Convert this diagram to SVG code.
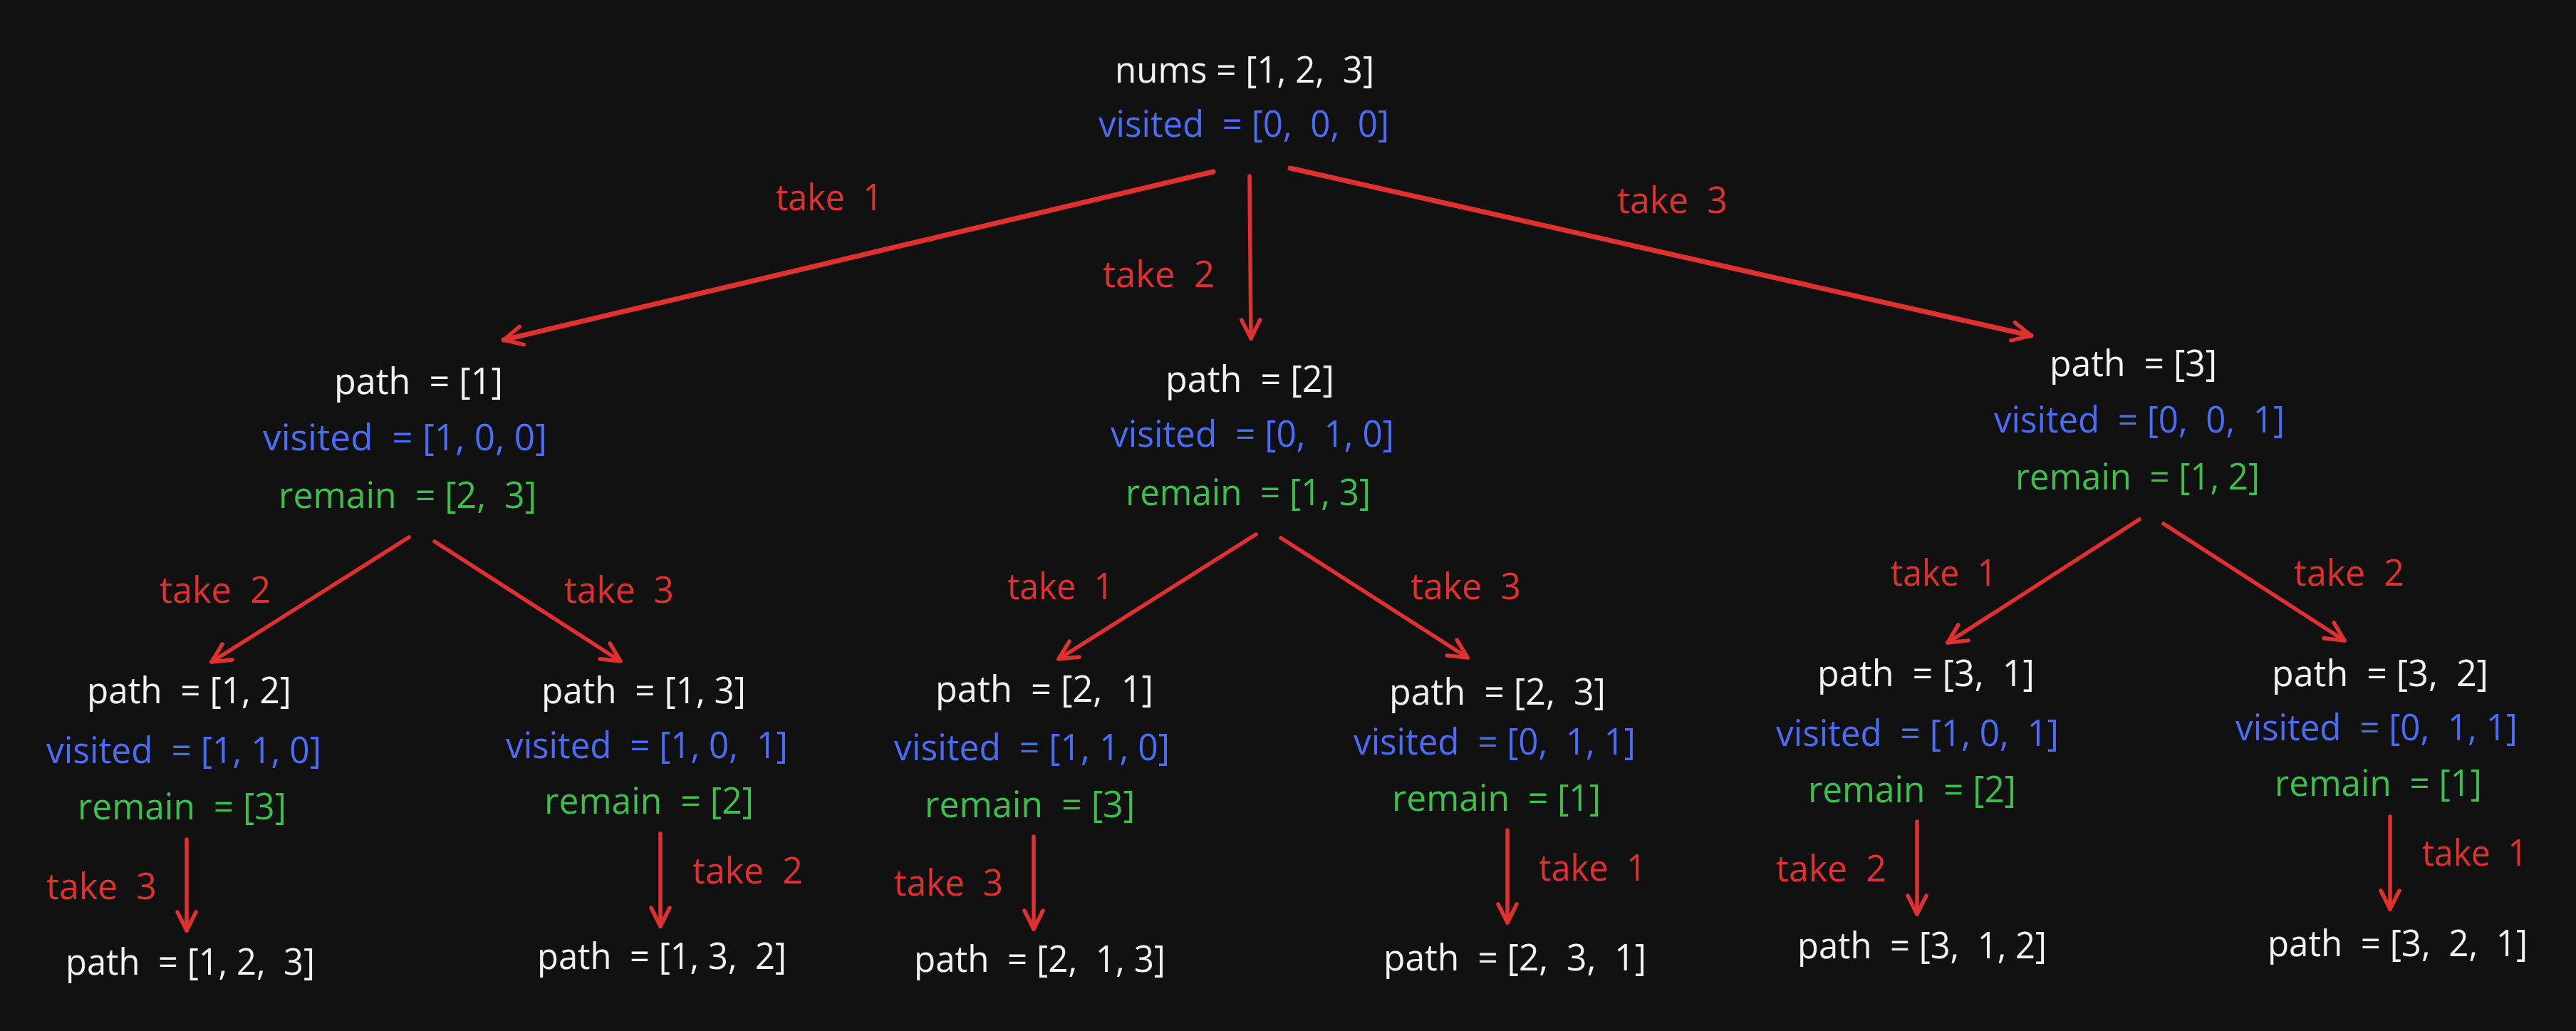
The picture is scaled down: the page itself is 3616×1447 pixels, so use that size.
<svg xmlns="http://www.w3.org/2000/svg" width="3616" height="1447" viewBox="0 0 3616 1447">
<style>
text{font-family:"Open Sans","Noto Sans","Liberation Sans",sans-serif;font-size:52px;white-space:pre}
.w{fill:#f2f2f2}.b{fill:#4b6cf7}.g{fill:#3dbf4b}.r{fill:#e03030}
.e{stroke:#e03030;stroke-width:5.5;stroke-linecap:round;fill:none;marker-end:url(#ah)}
.e6{stroke-width:7}
</style>
<defs>
<marker id="ah" markerUnits="userSpaceOnUse" markerWidth="60" markerHeight="60" viewBox="-40 -30 50 60" refX="0" refY="0" orient="auto">
<path d="M -26 -13 L 0 0 L -26 13" fill="none" stroke="#e03030" stroke-width="5.5" stroke-linecap="round" stroke-linejoin="round"/>
</marker>
</defs>
<rect width="3616" height="1447" fill="#111111"/>
<g id="connectors">
<line class="e e6" x1="1703" y1="241" x2="707" y2="477"/>
<line class="e" x1="1754" y1="247" x2="1756" y2="475"/>
<line class="e e6" x1="1811" y1="236" x2="2851" y2="471"/>
<line class="e" x1="574" y1="754" x2="297" y2="929"/>
<line class="e" x1="610" y1="760" x2="871" y2="928"/>
<line class="e" x1="1763" y1="750" x2="1486" y2="925"/>
<line class="e" x1="1798" y1="755" x2="2060" y2="923"/>
<line class="e" x1="3003" y1="729" x2="2734" y2="902"/>
<line class="e" x1="3037" y1="735" x2="3291" y2="899"/>
<line class="e" x1="262" y1="1178" x2="262" y2="1306"/>
<line class="e" x1="927" y1="1170" x2="927" y2="1300"/>
<line class="e" x1="1451" y1="1174" x2="1451" y2="1304"/>
<line class="e" x1="2116" y1="1165" x2="2116" y2="1295"/>
<line class="e" x1="2691" y1="1153" x2="2691" y2="1283"/>
<line class="e" x1="3355" y1="1146" x2="3355" y2="1276"/>
<text class="r" x="1089" y="295" textLength="150" lengthAdjust="spacingAndGlyphs">take  1</text>
<text class="r" x="1548" y="403" textLength="157" lengthAdjust="spacingAndGlyphs">take  2</text>
<text class="r" x="2270" y="299" textLength="155" lengthAdjust="spacingAndGlyphs">take  3</text>
<text class="r" x="224" y="846" textLength="156" lengthAdjust="spacingAndGlyphs">take  2</text>
<text class="r" x="792" y="846" textLength="154" lengthAdjust="spacingAndGlyphs">take  3</text>
<text class="r" x="1414" y="841" textLength="149" lengthAdjust="spacingAndGlyphs">take  1</text>
<text class="r" x="1980" y="841" textLength="155" lengthAdjust="spacingAndGlyphs">take  3</text>
<text class="r" x="2654" y="822" textLength="149" lengthAdjust="spacingAndGlyphs">take  1</text>
<text class="r" x="3220" y="822" textLength="155" lengthAdjust="spacingAndGlyphs">take  2</text>
<text class="r" x="65" y="1262" textLength="155" lengthAdjust="spacingAndGlyphs">take  3</text>
<text class="r" x="972" y="1240" textLength="155" lengthAdjust="spacingAndGlyphs">take  2</text>
<text class="r" x="1255" y="1257" textLength="153" lengthAdjust="spacingAndGlyphs">take  3</text>
<text class="r" x="2160" y="1236" textLength="151" lengthAdjust="spacingAndGlyphs">take  1</text>
<text class="r" x="2493" y="1237" textLength="155" lengthAdjust="spacingAndGlyphs">take  2</text>
<text class="r" x="3400" y="1215" textLength="148" lengthAdjust="spacingAndGlyphs">take  1</text>
</g>
<g id="root">
<text class="w" x="1565" y="116" textLength="364" lengthAdjust="spacingAndGlyphs">nums = [1, 2,  3]</text>
<text class="b" x="1542" y="192" textLength="408" lengthAdjust="spacingAndGlyphs">visited  = [0,  0,  0]</text>
</g>
<g id="n1">
<text class="w" x="469" y="553" textLength="237" lengthAdjust="spacingAndGlyphs">path  = [1]</text>
<text class="b" x="369" y="632" textLength="399" lengthAdjust="spacingAndGlyphs">visited  = [1, 0, 0]</text>
<text class="g" x="391" y="713" textLength="362" lengthAdjust="spacingAndGlyphs">remain  = [2,  3]</text>
</g>
<g id="n2">
<text class="w" x="1636" y="550" textLength="237" lengthAdjust="spacingAndGlyphs">path  = [2]</text>
<text class="b" x="1559" y="627" textLength="398" lengthAdjust="spacingAndGlyphs">visited  = [0,  1, 0]</text>
<text class="g" x="1580" y="709" textLength="344" lengthAdjust="spacingAndGlyphs">remain  = [1, 3]</text>
</g>
<g id="n3">
<text class="w" x="2877" y="528" textLength="235" lengthAdjust="spacingAndGlyphs">path  = [3]</text>
<text class="b" x="2799" y="607" textLength="408" lengthAdjust="spacingAndGlyphs">visited  = [0,  0,  1]</text>
<text class="g" x="2829" y="687" textLength="343" lengthAdjust="spacingAndGlyphs">remain  = [1, 2]</text>
</g>
<g id="n12">
<text class="w" x="122" y="987" textLength="287" lengthAdjust="spacingAndGlyphs">path  = [1, 2]</text>
<text class="b" x="65" y="1071" textLength="386" lengthAdjust="spacingAndGlyphs">visited  = [1, 1, 0]</text>
<text class="g" x="109" y="1150" textLength="293" lengthAdjust="spacingAndGlyphs">remain  = [3]</text>
</g>
<g id="n13">
<text class="w" x="760" y="987" textLength="287" lengthAdjust="spacingAndGlyphs">path  = [1, 3]</text>
<text class="b" x="710" y="1064" textLength="396" lengthAdjust="spacingAndGlyphs">visited  = [1, 0,  1]</text>
<text class="g" x="764" y="1142" textLength="294" lengthAdjust="spacingAndGlyphs">remain  = [2]</text>
</g>
<g id="n21">
<text class="w" x="1313" y="985" textLength="306" lengthAdjust="spacingAndGlyphs">path  = [2,  1]</text>
<text class="b" x="1255" y="1067" textLength="387" lengthAdjust="spacingAndGlyphs">visited  = [1, 1, 0]</text>
<text class="g" x="1298" y="1147" textLength="295" lengthAdjust="spacingAndGlyphs">remain  = [3]</text>
</g>
<g id="n23">
<text class="w" x="1950" y="989" textLength="304" lengthAdjust="spacingAndGlyphs">path  = [2,  3]</text>
<text class="b" x="1900" y="1059" textLength="396" lengthAdjust="spacingAndGlyphs">visited  = [0,  1, 1]</text>
<text class="g" x="1954" y="1138" textLength="293" lengthAdjust="spacingAndGlyphs">remain  = [1]</text>
</g>
<g id="n31">
<text class="w" x="2551" y="963" textLength="305" lengthAdjust="spacingAndGlyphs">path  = [3,  1]</text>
<text class="b" x="2493" y="1047" textLength="397" lengthAdjust="spacingAndGlyphs">visited  = [1, 0,  1]</text>
<text class="g" x="2538" y="1126" textLength="292" lengthAdjust="spacingAndGlyphs">remain  = [2]</text>
</g>
<g id="n32">
<text class="w" x="3189" y="963" textLength="304" lengthAdjust="spacingAndGlyphs">path  = [3,  2]</text>
<text class="b" x="3138" y="1039" textLength="396" lengthAdjust="spacingAndGlyphs">visited  = [0,  1, 1]</text>
<text class="g" x="3193" y="1117" textLength="291" lengthAdjust="spacingAndGlyphs">remain  = [1]</text>
</g>
<g id="n123"><text class="w" x="92" y="1368" textLength="350" lengthAdjust="spacingAndGlyphs">path  = [1, 2,  3]</text></g>
<g id="n132"><text class="w" x="754" y="1360" textLength="350" lengthAdjust="spacingAndGlyphs">path  = [1, 3,  2]</text></g>
<g id="n213"><text class="w" x="1283" y="1364" textLength="353" lengthAdjust="spacingAndGlyphs">path  = [2,  1, 3]</text></g>
<g id="n231"><text class="w" x="1942" y="1362" textLength="369" lengthAdjust="spacingAndGlyphs">path  = [2,  3,  1]</text></g>
<g id="n312"><text class="w" x="2523" y="1345" textLength="350" lengthAdjust="spacingAndGlyphs">path  = [3,  1, 2]</text></g>
<g id="n321"><text class="w" x="3183" y="1342" textLength="365" lengthAdjust="spacingAndGlyphs">path  = [3,  2,  1]</text></g>
</svg>
